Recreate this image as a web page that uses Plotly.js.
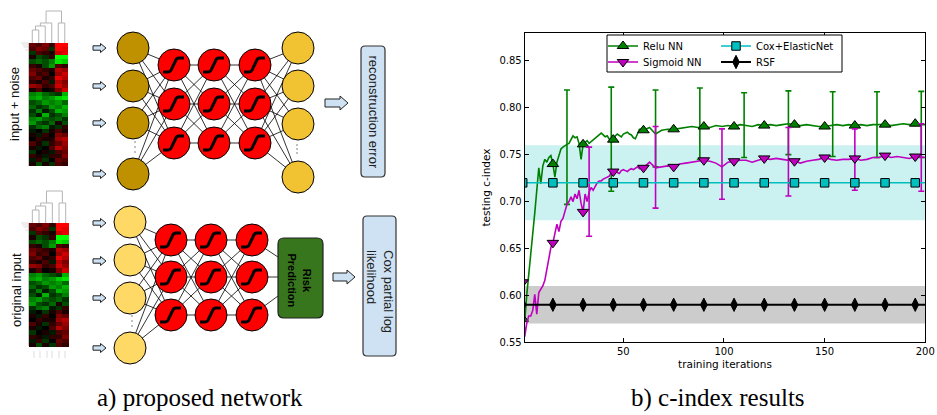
<!DOCTYPE html>
<html><head><meta charset="utf-8">
<script src="https://cdn.plot.ly/plotly-3.0.1.min.js"></script>
<style>html,body{margin:0;padding:0;background:#fff}#chart{width:937px;height:415px}</style>
</head><body><div id="chart"></div>
<script>
// ---------------- DATA ----------------
const seriesNames = ['Relu NN', 'Sigmoid NN', 'Cox+ElasticNet', 'RSF'];

const iterations = [0,1,2,3,4,5,6,7,8,9,10,11,12,13,14,15,16,17,18,19,20,21,22,23,24,25,26,27,28,29,30,
  31,32,33,34,35,36,37,38,39,40,41,42,43,44,45,46,47,48,49,50,51,52,53,54,55,56,57,58,59,60,
  63,66,69,72,75,78,81,84,87,90,93,96,99,102,105,108,111,114,117,120,123,126,129,132,135,138,141,144,147,150,
  153,156,159,162,165,168,171,174,177,180,183,186,189,192,195,198,200];

const reluNN = [0.575,0.572,0.600,0.622,0.637,0.665,0.688,0.712,0.736,0.719,0.738,0.745,0.742,0.747,0.749,0.740,
  0.726,0.742,0.750,0.756,0.758,0.760,0.761,0.762,0.766,0.770,0.768,0.769,0.762,0.745,0.761,
  0.763,0.765,0.762,0.764,0.765,0.767,0.770,0.771,0.773,0.771,0.769,0.770,0.767,0.763,0.766,
  0.770,0.772,0.770,0.769,0.772,0.773,0.774,0.772,0.771,0.768,0.767,0.772,0.777,0.777,0.776,
  0.779,0.772,0.776,0.777,0.777,0.778,0.779,0.780,0.779,0.780,0.779,0.781,0.780,0.781,0.780,0.782,0.781,0.780,0.782,0.781,
  0.782,0.781,0.782,0.783,0.782,0.781,0.782,0.781,0.780,0.780,0.781,0.782,0.781,0.782,0.781,0.782,0.781,0.782,0.782,0.782,
  0.781,0.782,0.783,0.782,0.783,0.782,0.782];

const sigmoidNN = [0.614,0.556,0.570,0.578,0.578,0.584,0.601,0.580,0.603,0.607,0.610,0.616,0.627,0.640,0.651,0.656,
  0.667,0.676,0.668,0.679,0.682,0.690,0.697,0.700,0.705,0.700,0.708,0.703,0.712,0.698,0.689,
  0.708,0.700,0.710,0.715,0.712,0.716,0.720,0.722,0.722,0.724,0.725,0.726,0.727,0.731,0.732,
  0.733,0.731,0.730,0.733,0.734,0.733,0.732,0.734,0.735,0.734,0.736,0.737,0.735,0.737,0.736,
  0.742,0.736,0.737,0.738,0.737,0.740,0.741,0.742,0.743,0.744,0.743,0.741,0.737,0.742,0.743,0.744,0.744,0.742,0.744,0.746,
  0.745,0.746,0.745,0.744,0.743,0.741,0.743,0.744,0.745,0.747,0.745,0.744,0.745,0.745,0.746,0.744,0.745,0.747,0.747,0.749,
  0.747,0.748,0.747,0.746,0.748,0.747,0.747];

const markerIterations = [0,15,30,45,60,75,90,105,120,135,150,165,180,195];

const reluErrIter = [22,44,66,88,110,132,154,176,198];
const reluErrLow  = [0.697,0.711,0.737,0.745,0.747,0.750,0.748,0.747,0.747];
const reluErrHigh = [0.819,0.822,0.819,0.821,0.816,0.818,0.817,0.817,0.8175];

const sigmoidErrIter = [33,66,99,132,165,198];
const sigmoidErrLow  = [0.663,0.693,0.7025,0.706,0.712,0.711];
const sigmoidErrHigh = [0.758,0.780,0.7775,0.779,0.7775,0.783];

const baselineIter = [0,15,30,45,60,75,90,105,120,135,150,165,180,195,200];
const coxMean = 0.72;
const coxBand = [0.68, 0.76];
const rsfMean = 0.59;
const rsfBand = [0.57, 0.61];

const yTickVals = [0.55,0.60,0.65,0.70,0.75,0.80,0.85];
const yTickText = ['0.55','0.60','0.65','0.70','0.75','0.80','0.85'];
const xTickVals = [50,100,150,200];
const xTickText = ['50','100','150','200'];

// gene-expression heat map (rows = genes, cols = samples), -1 green .. +1 red
const expression = [
  [0.4,0.3,0.5,0.2,1.0,1.0],
  [0.3,0.5,0.4,-0.2,1.0,0.9],
  [-0.2,0.3,0.2,0.1,0.8,0.9],
  [0.1,-0.3,-0.2,0.2,-1.0,-1.0],
  [-0.3,-0.4,-0.3,-0.5,-0.9,-0.8],
  [0.2,0.1,-0.3,-0.6,0.3,0.2],
  [0.4,0.3,0.2,0.1,0.7,0.6],
  [0.5,0.2,0.3,0.0,0.6,0.8],
  [0.3,0.4,0.1,0.2,0.9,0.7],
  [0.2,0.1,0.3,-0.1,0.7,0.5],
  [0.6,0.5,0.2,0.3,0.8,0.6],
  [0.1,0.3,0.0,0.1,0.5,0.8],
  [-0.5,-0.6,-0.4,-0.3,-0.2,-0.7],
  [-0.6,-0.7,-0.5,-0.6,-0.8,-0.9],
  [-0.3,-0.4,-0.6,-0.5,-0.6,-0.4],
  [-0.4,-0.2,-0.3,-0.6,-0.5,-0.7],
  [-0.2,-0.5,-0.1,-0.3,-0.7,-0.6],
  [-0.3,-0.1,-0.7,-0.2,-0.3,-0.5],
  [-0.5,-0.6,-0.4,-0.3,-0.4,-0.2],
  [-0.6,-0.3,-0.2,-0.4,0.1,-0.3],
  [-0.2,-0.4,-0.5,-0.1,-0.2,0.2],
  [-0.1,0.0,-0.2,0.1,0.3,0.1],
  [0.1,-0.1,0.2,0.0,0.5,0.4],
  [0.0,0.2,0.1,0.1,0.6,0.7],
  [0.3,0.1,-0.2,0.2,0.4,0.6],
  [0.1,-0.1,0.0,0.3,0.7,0.5],
  [-0.2,0.0,0.1,-0.1,0.3,0.4],
  [0.2,0.1,-0.1,0.2,0.2,0.5],
  [-0.1,0.2,-0.2,0.0,0.4,0.3],
  [0.1,-0.3,0.1,-0.2,0.3,0.2]
];

// ---------------- STYLE ----------------
const GREEN = '#008000', MAGENTA = '#BF00BF', CYAN = '#00BFBF', BLACK = '#000000';
const CLEAR = 'rgba(0,0,0,0)';
const SANS = 'DejaVu Sans';

function markerColors(xs, c) { return xs.map(x => markerIterations.includes(x) ? c : CLEAR); }
function edgeColors(xs) { return xs.map(x => markerIterations.includes(x) ? BLACK : CLEAR); }
const mid = (lo, hi) => lo.map((v, i) => (v + hi[i]) / 2);
const half = (lo, hi) => lo.map((v, i) => (hi[i] - v) / 2);

const traces = [];
// bands
traces.push({x: baselineIter, y: baselineIter.map(() => coxBand[0]), mode: 'lines', line: {width: 0, color: CLEAR}, showlegend: false, hoverinfo: 'skip'});
traces.push({x: baselineIter, y: baselineIter.map(() => coxBand[1]), mode: 'lines', line: {width: 0, color: CLEAR}, fill: 'tonexty', fillcolor: '#CCF1F1', showlegend: false, hoverinfo: 'skip'});
traces.push({x: baselineIter, y: baselineIter.map(() => rsfBand[0]), mode: 'lines', line: {width: 0, color: CLEAR}, showlegend: false, hoverinfo: 'skip'});
traces.push({x: baselineIter, y: baselineIter.map(() => rsfBand[1]), mode: 'lines', line: {width: 0, color: CLEAR}, fill: 'tonexty', fillcolor: '#CCCCCC', showlegend: false, hoverinfo: 'skip'});
// relu
traces.push({x: reluErrIter, y: mid(reluErrLow, reluErrHigh), mode: 'markers', marker: {size: 1, opacity: 0},
  error_y: {type: 'data', array: half(reluErrLow, reluErrHigh), color: GREEN, thickness: 1.6, width: 3}, showlegend: false, hoverinfo: 'skip'});
traces.push({x: iterations, y: reluNN, name: seriesNames[0], legend: 'legend', mode: 'lines+markers',
  line: {color: GREEN, width: 1.6},
  marker: {symbol: 'triangle-up', size: 10, color: markerColors(iterations, GREEN), line: {color: edgeColors(iterations), width: 1}}});
// sigmoid
traces.push({x: sigmoidErrIter, y: mid(sigmoidErrLow, sigmoidErrHigh), mode: 'markers', marker: {size: 1, opacity: 0},
  error_y: {type: 'data', array: half(sigmoidErrLow, sigmoidErrHigh), color: MAGENTA, thickness: 1.6, width: 3}, showlegend: false, hoverinfo: 'skip'});
traces.push({x: iterations, y: sigmoidNN, name: seriesNames[1], legend: 'legend2', mode: 'lines+markers',
  line: {color: MAGENTA, width: 1.6},
  marker: {symbol: 'triangle-down', size: 10, color: markerColors(iterations, MAGENTA), line: {color: edgeColors(iterations), width: 1}}});
// cox
traces.push({x: baselineIter, y: baselineIter.map(() => coxMean), name: seriesNames[2], legend: 'legend3', mode: 'lines+markers',
  line: {color: CYAN, width: 1.6},
  marker: {symbol: 'square', size: 8.5, color: markerColors(baselineIter, CYAN), line: {color: edgeColors(baselineIter), width: 1}}});
// rsf
traces.push({x: baselineIter, y: baselineIter.map(() => rsfMean), name: seriesNames[3], legend: 'legend4', mode: 'lines+markers',
  line: {color: BLACK, width: 1.8},
  marker: {symbol: 'diamond-tall', size: 9.5, color: markerColors(baselineIter, BLACK), line: {color: edgeColors(baselineIter), width: 1}}});

// heat maps (drawn on a pixel-scaled overlay axis pair)
const heatScale = [[0, '#00FF00'], [0.5, '#000000'], [1, '#FF0000']];
traces.push({type: 'heatmap', z: expression, x0: 29 + 3.25, dx: 6.5, y0: 43 + 2.05, dy: 4.1, xaxis: 'x2', yaxis: 'y2',
  colorscale: heatScale, zmin: -1, zmax: 1, showscale: false, hoverinfo: 'skip'});
traces.push({type: 'heatmap', z: expression, x0: 29 + 3.33, dx: 6.67, y0: 223 + 2.07, dy: 4.13, xaxis: 'x2', yaxis: 'y2',
  colorscale: heatScale, zmin: -1, zmax: 1, showscale: false, hoverinfo: 'skip'});

// ---------------- DIAGRAM (pixel coordinates on x2/y2) ----------------
const shapes = [];
function seg(x0, y0, x1, y1, color, w) { shapes.push({type: 'line', xref: 'x2', yref: 'y2', x0, y0, x1, y1, line: {color, width: w}, layer: 'above'}); }
function circ(cx, cy, r, fill, lw) { shapes.push({type: 'circle', xref: 'x2', yref: 'y2', x0: cx - r, x1: cx + r, y0: cy - r, y1: cy + r, fillcolor: fill, line: {color: '#000', width: lw || 1}, layer: 'above'}); }
function pth(d, fill, lc, lw) { shapes.push({type: 'path', xref: 'x2', yref: 'y2', path: d, fillcolor: fill, line: {color: lc, width: lw}, layer: 'above'}); }
function roundRect(x0, y0, x1, y1, r) {
  return `M${x0 + r},${y0} L${x1 - r},${y0} Q${x1},${y0} ${x1},${y0 + r} L${x1},${y1 - r} Q${x1},${y1} ${x1 - r},${y1} L${x0 + r},${y1} Q${x0},${y1} ${x0},${y1 - r} L${x0},${y0 + r} Q${x0},${y0} ${x0 + r},${y0} Z`;
}
function arrow(x0, hs, x1, cy, sh, hh) {
  pth(`M${x0},${cy - sh} L${hs},${cy - sh} L${hs},${cy - hh} L${x1},${cy} L${hs},${cy + hh} L${hs},${cy + sh} L${x0},${cy + sh} Z`, '#CFE2F3', '#222', 1);
}
function sigmoidGlyph(cx, cy) {
  pth(`M${cx - 11},${cy + 7} L${cx - 6},${cy + 7} Q${cx - 3},${cy + 7} ${cx - 2},${cy + 3} L${cx + 1},${cy - 3} Q${cx + 2},${cy - 7} ${cx + 5},${cy - 7} L${cx + 10},${cy - 7}`, CLEAR, '#000', 3);
}
function dots(x, ys) { ys.forEach(y => shapes.push({type: 'circle', xref: 'x2', yref: 'y2', x0: x - 0.7, x1: x + 0.7, y0: y - 0.7, y1: y + 0.7, fillcolor: '#555', line: {width: 0}, layer: 'above'})); }
function connect(a, b) { a.ys.forEach(ya => b.ys.forEach(yb => seg(a.x, ya, b.x, yb, '#000', 0.8))); }
function dendro(xLeft, cellW, yTop) {
  const c = j => xLeft + cellW * (j + 0.5);
  const col = '#B5B5B5';
  const u = (xa, ya, xb, yb, h) => { const yh = yTop - h; seg(xa, ya, xa, yh, col, 1); seg(xb, yb, xb, yh, col, 1); seg(xa, yh, xb, yh, col, 1); };
  u(c(0), yTop, c(1), yTop, 13); const m1 = (c(0) + c(1)) / 2;
  u(m1, yTop - 13, c(2), yTop, 17); const m2 = (m1 + c(2)) / 2;
  u(m2, yTop - 17, c(3), yTop, 20); const m3 = (m2 + c(3)) / 2;
  u(c(4), yTop, c(5), yTop, 20); const m4 = (c(4) + c(5)) / 2;
  u(m3, yTop - 20, m4, yTop - 20, 32);
  seg(xLeft - 0.5, yTop, xLeft - 0.5, yTop + 123, '#C8C8C8', 1);
  [0, 2, 4, 7].forEach(k => seg(xLeft - 8 + k * 0.6, yTop + k, xLeft - 0.5, yTop + k, '#C8C8C8', 0.6));
}

// top autoencoder
const tIn = {x: 133, ys: [48, 86, 123, 174]};
const tH1 = {x: 174, ys: [65, 104, 143]}, tH2 = {x: 214, ys: [65, 104, 143]}, tH3 = {x: 255, ys: [65, 104, 143]};
const tOut = {x: 298, ys: [48, 86, 124, 177]};
// bottom risk network
const bIn = {x: 130, ys: [222, 260, 298, 348]};
const bH1 = {x: 171, ys: [240, 277, 315]}, bH2 = {x: 211, ys: [240, 277, 315]}, bH3 = {x: 252, ys: [240, 277, 315]};

dendro(29, 6.5, 43);
dendro(29, 6.67, 223);
[34, 40, 47, 52, 59, 65].forEach(x => seg(x, 351, x, 358, '#C8C8C8', 0.6));

connect(tIn, tH1); connect(tH1, tH2); connect(tH2, tH3); connect(tH3, tOut);
connect(bIn, bH1); connect(bH1, bH2); connect(bH2, bH3);
[[240, 257], [277, 277], [315, 296]].forEach(([a, b]) => seg(bH3.x, a, 278, b, '#000', 0.8));

tIn.ys.forEach(y => circ(tIn.x, y, 16, '#BF9000'));
tOut.ys.forEach(y => circ(tOut.x, y, 16, '#F1C232'));
bIn.ys.forEach(y => circ(bIn.x, y, 16, '#FFD966'));
[tH1, tH2, tH3, bH1, bH2, bH3].forEach(L => L.ys.forEach(y => { circ(L.x, y, 16, '#FF0000'); sigmoidGlyph(L.x, y); }));
dots(135, [142, 147, 152]); dots(297, [145, 149, 153]); dots(132, [316, 321, 326]);

tIn.ys.forEach(y => arrow(93, 100.5, 106, y, 2.2, 4.5));
[223, 261, 298, 348].forEach(y => arrow(93, 100.5, 106, y, 2.2, 4.5));
arrow(325, 340, 348, 103, 4, 7);
arrow(333, 347, 355, 277, 4, 7);

pth(roundRect(361, 46, 385, 177, 4), '#CFE2F3', '#333', 1.2);
pth(roundRect(363, 216, 396, 356, 4), '#CFE2F3', '#333', 1.2);
pth(roundRect(278, 238, 323, 318, 6), '#38761D', '#222', 1.2);

// chart legend frame
shapes.push({type: 'rect', xref: 'paper', yref: 'paper', x0: 607 / 937, x1: 842 / 937, y0: 1 - 72 / 415, y1: 1 - 35 / 415,
  fillcolor: '#FFFFFF', line: {color: '#000', width: 1}, layer: 'above'});

const LS = 'Liberation Sans';
const annotations = [
  {text: 'a) proposed network', x: 200, y: 398, font: {family: 'Liberation Serif', size: 25, color: '#000'}},
  {text: 'b) c-index results', x: 718, y: 398, font: {family: 'Liberation Serif', size: 25, color: '#000'}},
  {text: 'input + noise', x: 14, y: 104, textangle: -90, font: {family: LS, size: 13, color: '#111'}},
  {text: 'original input', x: 16, y: 290, textangle: -90, font: {family: LS, size: 13, color: '#111'}},
  {text: 'reconstruction error', x: 373, y: 111.5, textangle: 90, font: {family: LS, size: 13, color: '#222'}},
  {text: 'Cox partial log<br>likelihood', x: 380, y: 291, textangle: 90, align: 'left', font: {family: LS, size: 13, color: '#222'}},
  {text: '<b>Risk</b><br><b>Prediction</b>', x: 299.5, y: 280, textangle: 90, align: 'center', font: {family: LS, size: 11, color: '#000'}}
].map(a => Object.assign({xref: 'x2', yref: 'y2', showarrow: false, xanchor: 'center', yanchor: 'middle'}, a));

const axisFont = {family: SANS, size: 10, color: '#000'};
function leg(x, y) {
  return {x: x / 937, y: 1 - y / 415, xanchor: 'left', yanchor: 'middle', bgcolor: CLEAR, borderwidth: 0,
    font: {family: SANS, size: 10, color: '#000'}, itemclick: false};
}

const layout = {
  width: 937, height: 415,
  margin: {l: 0, r: 0, t: 0, b: 0},
  paper_bgcolor: '#FFFFFF', plot_bgcolor: CLEAR,
  showlegend: true,
  xaxis: {domain: [524.7 / 937, 925.3 / 937], range: [1, 200], tickvals: xTickVals, ticktext: xTickText,
    ticks: 'inside', ticklen: 4, tickcolor: '#000', mirror: 'ticks', showline: true, linecolor: '#000', linewidth: 1,
    showgrid: false, zeroline: false, tickfont: axisFont, anchor: 'y',
    title: {text: 'training iterations', font: {family: SANS, size: 10.5, color: '#000'}, standoff: 4}},
  yaxis: {domain: [1 - 342.3 / 415, 1 - 32.7 / 415], range: [0.55, 0.88], tickvals: yTickVals, ticktext: yTickText,
    ticks: 'inside', ticklen: 4, tickcolor: '#000', mirror: 'ticks', showline: true, linecolor: '#000', linewidth: 1,
    showgrid: false, zeroline: false, tickfont: axisFont, anchor: 'x',
    title: {text: 'testing c-index', font: {family: SANS, size: 10.5, color: '#000'}, standoff: 6}},
  xaxis2: {domain: [0, 1], range: [0, 937], visible: false, anchor: 'y2', fixedrange: true},
  yaxis2: {domain: [0, 1], range: [415, 0], visible: false, anchor: 'x2', fixedrange: true},
  legend: leg(603, 46), legend2: leg(603, 62), legend3: leg(716, 46), legend4: leg(716, 62),
  shapes, annotations
};

Plotly.newPlot('chart', traces, layout, {staticPlot: true, displayModeBar: false});
</script></body></html>
